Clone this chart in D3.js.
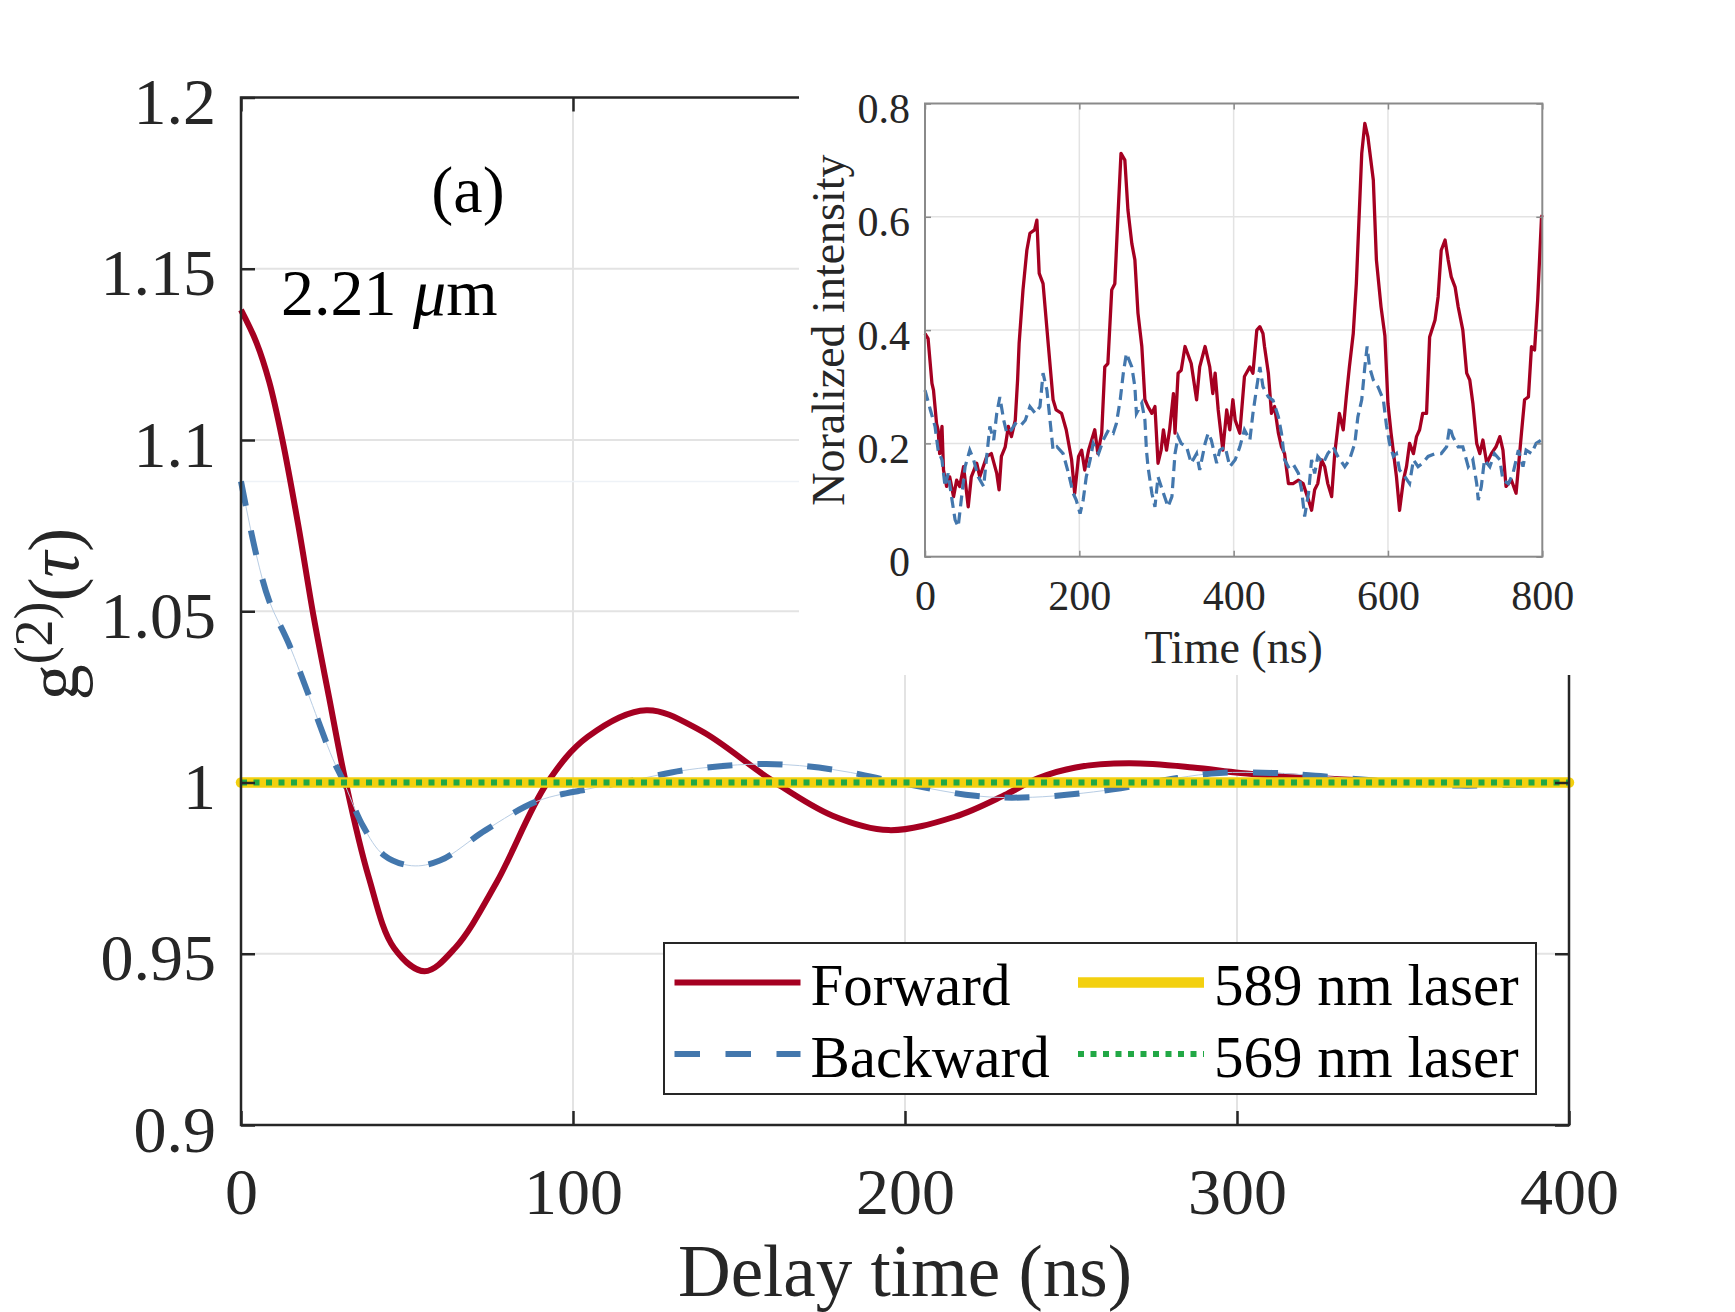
<!DOCTYPE html>
<html lang="en">
<head>
<meta charset="utf-8">
<title>g2 vs delay time</title>
<script src="https://cdn.jsdelivr.net/npm/d3@7"></script>
<style>
  body {margin: 0; background: #fff;}
  svg {display: block;}
  text {font-family: "Liberation Serif", "Times New Roman", serif; fill: #262626;}
</style>
</head>
<body>
<svg id="chart" width="1735" height="1312"></svg>
<script>
// ---- main panel: g2(tau) against delay time (ns)
var delayFwd = [0, 4.6, 8.5, 12.5, 17.2, 21.9, 26.5, 31.4, 38.4, 46.1, 55.3, 64.5, 76.8, 92.1, 104.4, 122.1, 138.2, 159.8, 178.2, 195.1, 215, 230.6, 240.2, 251.4, 267.4, 286.7, 301.1, 320, 340, 360, 380, 400];
var g2Fwd = [1.138, 1.1286, 1.117, 1.0999, 1.0754, 1.0483, 1.025, 1.0007, 0.9726, 0.9517, 0.9449, 0.9517, 0.9705, 0.9997, 1.0133, 1.0211, 1.0153, 1.0007, 0.9903, 0.9861, 0.99, 0.9966, 1.0013, 1.0044, 1.0056, 1.0044, 1.0028, 1.0015, 1.0005, 1.0, 0.9998, 1.0];
var delayBwd = [0, 4.6, 8.5, 14.5, 20.7, 27.6, 30.7, 36.8, 43, 51.4, 59.9, 73.7, 89.1, 104.5, 118.3, 135.2, 158.2, 178.2, 199.7, 221.2, 238.5, 262.7, 282, 294.7, 310.7, 323.6, 339.6, 366.9, 400];
var g2Bwd = [1.0879, 1.0665, 1.053, 1.0403, 1.0247, 1.007, 1.0007, 0.9872, 0.9788, 0.9757, 0.9772, 0.9861, 0.9945, 0.9981, 1.0007, 1.0038, 1.0054, 1.0038, 0.9997, 0.9961, 0.9957, 0.998, 1.0013, 1.0028, 1.0028, 1.002, 1.0007, 0.9991, 1.0];
var laserDelay = [0, 400];
var laserG2 = [1, 1];
var delayTicks = [0, 100, 200, 300, 400];
var g2Ticks = [0.9, 0.95, 1, 1.05, 1.1, 1.15, 1.2];
var g2TickLabels = ["0.9", "0.95", "1", "1.05", "1.1", "1.15", "1.2"];
var legendNames = ["Forward", "Backward", "589 nm laser", "569 nm laser"];

// ---- inset: normalized intensity against time (ns)
var timeFwd = [0, 4, 9, 11, 15, 17, 19, 22, 24, 28, 32, 37, 41, 45, 50, 56, 60, 67, 71, 80, 86, 93, 96, 99, 104, 108, 112, 117, 120, 122, 127, 132, 136, 142, 145, 148, 153, 160, 166, 170, 177, 183, 190, 194, 199, 203, 207, 212, 216, 220, 224, 229, 233, 237, 242, 246, 250, 254, 259, 263, 268, 272, 276, 281, 285, 289, 294, 298, 302, 306, 309, 313, 317, 322, 324, 328, 332, 337, 345, 352, 356, 363, 369, 373, 376, 380, 386, 391, 395, 399, 402, 408, 414, 421, 425, 430, 434, 438, 440, 445, 449, 453, 458, 462, 466, 471, 477, 484, 490, 497, 501, 505, 509, 514, 518, 522, 527, 531, 537, 542, 546, 550, 555, 559, 566, 570, 574, 581, 585, 591, 596, 600, 604, 611, 615, 620, 624, 628, 633, 637, 641, 645, 650, 654, 661, 665, 669, 674, 678, 682, 687, 691, 697, 702, 706, 710, 715, 719, 723, 728, 734, 740, 745, 749, 753, 760, 766, 773, 777, 782, 786, 790, 794, 799, 800];
var intFwd = [0.394, 0.385, 0.306, 0.294, 0.235, 0.224, 0.182, 0.230, 0.153, 0.124, 0.141, 0.106, 0.135, 0.124, 0.159, 0.088, 0.141, 0.165, 0.141, 0.177, 0.182, 0.147, 0.118, 0.177, 0.194, 0.230, 0.212, 0.241, 0.312, 0.377, 0.471, 0.541, 0.571, 0.577, 0.594, 0.500, 0.482, 0.371, 0.277, 0.259, 0.253, 0.224, 0.171, 0.112, 0.177, 0.188, 0.153, 0.188, 0.206, 0.224, 0.182, 0.218, 0.335, 0.341, 0.471, 0.482, 0.600, 0.712, 0.700, 0.612, 0.553, 0.524, 0.430, 0.371, 0.277, 0.265, 0.253, 0.265, 0.165, 0.188, 0.224, 0.188, 0.224, 0.288, 0.218, 0.324, 0.329, 0.371, 0.341, 0.277, 0.335, 0.371, 0.335, 0.288, 0.324, 0.259, 0.188, 0.259, 0.224, 0.277, 0.241, 0.218, 0.318, 0.335, 0.324, 0.400, 0.406, 0.394, 0.371, 0.324, 0.253, 0.265, 0.218, 0.194, 0.182, 0.129, 0.129, 0.135, 0.129, 0.100, 0.082, 0.118, 0.129, 0.171, 0.159, 0.129, 0.106, 0.182, 0.253, 0.224, 0.282, 0.335, 0.394, 0.482, 0.712, 0.765, 0.741, 0.665, 0.524, 0.441, 0.390, 0.270, 0.218, 0.141, 0.082, 0.135, 0.159, 0.200, 0.182, 0.212, 0.224, 0.253, 0.253, 0.388, 0.418, 0.459, 0.541, 0.559, 0.524, 0.494, 0.476, 0.441, 0.400, 0.324, 0.312, 0.271, 0.200, 0.182, 0.206, 0.165, 0.182, 0.194, 0.212, 0.188, 0.124, 0.135, 0.112, 0.218, 0.277, 0.282, 0.371, 0.365, 0.453, 0.600, 0.603];
var timeBwd = [0, 7, 13, 17, 22, 26, 30, 35, 39, 43, 48, 52, 58, 63, 69, 76, 80, 84, 89, 93, 97, 102, 106, 112, 117, 123, 130, 136, 143, 149, 153, 158, 162, 166, 171, 179, 186, 192, 196, 201, 205, 209, 214, 218, 225, 231, 238, 244, 248, 253, 257, 261, 268, 272, 274, 281, 285, 287, 289, 294, 298, 302, 309, 315, 320, 324, 328, 332, 339, 345, 352, 356, 363, 367, 371, 378, 382, 389, 395, 402, 408, 414, 421, 425, 430, 434, 438, 445, 451, 458, 462, 466, 473, 479, 484, 488, 492, 497, 501, 505, 509, 516, 522, 529, 535, 544, 550, 557, 561, 566, 570, 573, 576, 581, 587, 594, 598, 602, 607, 611, 615, 622, 628, 633, 639, 645, 652, 661, 669, 676, 680, 684, 691, 697, 704, 710, 715, 717, 721, 725, 732, 738, 745, 749, 756, 762, 769, 775, 779, 786, 792, 799];
var intBwd = [0.294, 0.259, 0.230, 0.188, 0.171, 0.124, 0.147, 0.100, 0.065, 0.053, 0.112, 0.159, 0.188, 0.171, 0.141, 0.124, 0.177, 0.230, 0.206, 0.253, 0.282, 0.241, 0.218, 0.224, 0.235, 0.230, 0.241, 0.265, 0.253, 0.265, 0.324, 0.294, 0.241, 0.188, 0.194, 0.182, 0.147, 0.112, 0.100, 0.076, 0.100, 0.141, 0.171, 0.200, 0.182, 0.206, 0.224, 0.218, 0.235, 0.277, 0.324, 0.359, 0.335, 0.300, 0.253, 0.271, 0.241, 0.188, 0.159, 0.112, 0.088, 0.141, 0.112, 0.088, 0.106, 0.182, 0.212, 0.200, 0.194, 0.165, 0.182, 0.153, 0.200, 0.218, 0.206, 0.165, 0.188, 0.194, 0.159, 0.171, 0.194, 0.224, 0.206, 0.253, 0.300, 0.335, 0.300, 0.282, 0.276, 0.247, 0.218, 0.171, 0.153, 0.159, 0.147, 0.118, 0.071, 0.112, 0.171, 0.147, 0.177, 0.165, 0.182, 0.194, 0.177, 0.159, 0.171, 0.200, 0.247, 0.277, 0.335, 0.371, 0.335, 0.312, 0.300, 0.277, 0.232, 0.200, 0.177, 0.182, 0.153, 0.141, 0.129, 0.171, 0.159, 0.165, 0.177, 0.182, 0.182, 0.194, 0.230, 0.212, 0.194, 0.194, 0.159, 0.171, 0.129, 0.100, 0.124, 0.171, 0.159, 0.182, 0.171, 0.135, 0.129, 0.147, 0.188, 0.159, 0.188, 0.182, 0.200, 0.206];
var timeTicks = [0, 200, 400, 600, 800];
var intTicks = [0, 0.2, 0.4, 0.6, 0.8];

var red = "#a50021", blue = "#4377ad", yellow = "#f3d00f", green = "#22a845";
var axisCol = "#262626", gridCol = "#e3e3e3";

var svg = d3.select("#chart");

// main scales
var x = d3.scaleLinear().domain([0, 400]).range([241, 1569]);
var y = d3.scaleLinear().domain([0.9, 1.2]).range([1125, 97.5]);

var grid = svg.append("g");
grid.selectAll("line.vx").data(delayTicks.slice(1, -1)).enter().append("line")
    .attr("x1", d => x(d)).attr("x2", d => x(d))
    .attr("y1", y(1.2)).attr("y2", y(0.9))
    .attr("stroke", gridCol).attr("stroke-width", 2);
grid.selectAll("line.hy").data(g2Ticks.slice(1, -1)).enter().append("line")
    .attr("x1", x(0)).attr("x2", x(400))
    .attr("y1", d => y(d)).attr("y2", d => y(d))
    .attr("stroke", gridCol).attr("stroke-width", 2);
// faint rendering line left at the start level of the backward curve
grid.append("line")
    .attr("x1", x(0)).attr("x2", x(400))
    .attr("y1", y(g2Bwd[0])).attr("y2", y(g2Bwd[0]))
    .attr("stroke", "#eef2f7").attr("stroke-width", 1.5);

var smooth = d3.line().curve(d3.curveCatmullRom.alpha(0.5));
function pts(xs, ys, sx, sy) { return xs.map((t, i) => [sx(t), sy(ys[i])]); }

svg.append("path").attr("d", smooth(pts(delayFwd, g2Fwd, x, y)))
    .attr("fill", "none").attr("stroke", red).attr("stroke-width", 6);
svg.append("path").attr("d", smooth(pts(delayBwd, g2Bwd, x, y)))
    .attr("fill", "none").attr("stroke", "#b8cde4").attr("stroke-width", 1);
svg.append("path").attr("d", smooth(pts(delayBwd, g2Bwd, x, y)))
    .attr("fill", "none").attr("stroke", blue).attr("stroke-width", 6)
    .attr("stroke-dasharray", "25,25");
svg.append("path").attr("d", d3.line()(pts(laserDelay, laserG2, x, y)))
    .attr("fill", "none").attr("stroke", yellow).attr("stroke-width", 10.5)
    .attr("stroke-linecap", "round");
svg.append("path").attr("d", d3.line()(pts(laserDelay, laserG2, x, y)))
    .attr("fill", "none").attr("stroke", green).attr("stroke-width", 6)
    .attr("stroke-dasharray", "6,6.5");

// main axes
function styleAxis(g) {
    g.attr("font-family", null).attr("font-size", null);
    g.select(".domain").remove();
    g.selectAll(".tick line").attr("stroke", axisCol).attr("stroke-width", 2.5);
}
svg.append("g").attr("transform", "translate(0," + y(0.9) + ")")
    .call(d3.axisBottom(x).tickValues(delayTicks).tickSize(-14))
    .call(styleAxis)
    .call(g => g.selectAll(".tick text").attr("y", 89).attr("dy", null)
        .style("font-size", "66px"));
svg.append("g").attr("transform", "translate(" + x(0) + ",0)")
    .call(d3.axisLeft(y).tickValues(g2Ticks).tickFormat((d, i) => g2TickLabels[i]).tickSize(-14))
    .call(styleAxis)
    .call(g => g.selectAll(".tick text").attr("x", -25).attr("dy", null).attr("y", 26)
        .style("font-size", "66px"));
svg.append("g").attr("transform", "translate(0," + y(1.2) + ")")
    .call(d3.axisTop(x).tickValues(delayTicks).tickSize(-14).tickFormat(""))
    .call(styleAxis);
svg.append("g").attr("transform", "translate(" + x(400) + ",0)")
    .call(d3.axisRight(y).tickValues(g2Ticks).tickSize(-14).tickFormat(""))
    .call(styleAxis);
svg.append("rect").attr("x", x(0)).attr("y", y(1.2))
    .attr("width", x(400) - x(0)).attr("height", y(0.9) - y(1.2))
    .attr("fill", "none").attr("stroke", axisCol).attr("stroke-width", 2.5);

svg.append("text").attr("x", (x(0) + x(400)) / 2).attr("y", 1296)
    .attr("text-anchor", "middle").style("font-size", "73px").text("Delay time (ns)");
var yl = svg.append("text").attr("transform", "translate(78,614) rotate(-90)")
    .attr("text-anchor", "middle").style("font-size", "72px");
yl.append("tspan").text("g");
yl.append("tspan").attr("dy", -26).style("font-size", "54px").text("(2)");
yl.append("tspan").attr("dy", 26).text("(");
yl.append("tspan").style("font-style", "italic").text("τ");
yl.append("tspan").text(")");

svg.append("text").attr("x", 468).attr("y", 212).attr("text-anchor", "middle")
    .style("font-size", "66px").style("fill", "#000").text("(a)");
var lam = svg.append("text").attr("x", 281).attr("y", 315)
    .style("font-size", "66px").style("fill", "#000");
lam.append("tspan").text("2.21 ");
lam.append("tspan").style("font-style", "italic").text("μ");
lam.append("tspan").text("m");

// legend
var lg = svg.append("g");
lg.append("rect").attr("x", 664).attr("y", 943).attr("width", 872).attr("height", 151)
    .attr("fill", "#fff").attr("stroke", axisCol).attr("stroke-width", 2);
var legendItems = [
    {name: legendNames[0], x: 674.5, y: 982.5, stroke: red, w: 6, dash: null},
    {name: legendNames[1], x: 674.5, y: 1054, stroke: blue, w: 6, dash: "25.5,25.5"},
    {name: legendNames[2], x: 1078, y: 982.5, stroke: yellow, w: 10.5, dash: null},
    {name: legendNames[3], x: 1078, y: 1054, stroke: green, w: 6, dash: "6,6.5"}
];
legendItems.forEach(function(it) {
    lg.append("line").attr("x1", it.x).attr("x2", it.x + 126)
        .attr("y1", it.y).attr("y2", it.y)
        .attr("stroke", it.stroke).attr("stroke-width", it.w)
        .attr("stroke-dasharray", it.dash);
    lg.append("text").attr("x", it.x + 136).attr("y", it.y + 22.5)
        .style("font-size", "59px").style("fill", "#000").text(it.name);
});

// ---- inset
svg.append("rect").attr("x", 799).attr("y", 0).attr("width", 936).attr("height", 675)
    .attr("fill", "#fff");
var xi = d3.scaleLinear().domain([0, 800]).range([925, 1542.3]);
var yi = d3.scaleLinear().domain([0, 0.8]).range([556.7, 103.5]);
var insetAxis = "#8a8a8a";

var ig = svg.append("g");
ig.selectAll("line.vx").data(timeTicks.slice(1, -1)).enter().append("line")
    .attr("x1", d => xi(d)).attr("x2", d => xi(d))
    .attr("y1", yi(0.8)).attr("y2", yi(0))
    .attr("stroke", gridCol).attr("stroke-width", 1.5);
ig.selectAll("line.hy").data(intTicks.slice(1, -1)).enter().append("line")
    .attr("x1", xi(0)).attr("x2", xi(800))
    .attr("y1", d => yi(d)).attr("y2", d => yi(d))
    .attr("stroke", gridCol).attr("stroke-width", 1.5);

var jag = d3.line();
ig.append("path").attr("d", jag(pts(timeFwd, intFwd, xi, yi)))
    .attr("fill", "none").attr("stroke", red).attr("stroke-width", 3.3)
    .attr("stroke-linejoin", "round");
ig.append("path").attr("d", jag(pts(timeBwd, intBwd, xi, yi)))
    .attr("fill", "none").attr("stroke", blue).attr("stroke-width", 3.2)
    .attr("stroke-dasharray", "11,6");

function styleInset(g) {
    g.attr("font-family", null).attr("font-size", null);
    g.select(".domain").remove();
    g.selectAll(".tick line").attr("stroke", insetAxis).attr("stroke-width", 1.5);
}
ig.append("g").attr("transform", "translate(0," + yi(0) + ")")
    .call(d3.axisBottom(xi).tickValues(timeTicks).tickSize(-6))
    .call(styleInset)
    .call(g => g.selectAll(".tick text").attr("y", 53).attr("dy", null)
        .style("font-size", "42px"));
ig.append("g").attr("transform", "translate(" + xi(0) + ",0)")
    .call(d3.axisLeft(yi).tickValues(intTicks).tickFormat(d3.format("~g")).tickSize(-6))
    .call(styleInset)
    .call(g => g.selectAll(".tick text").attr("x", -15).attr("dy", null).attr("y", 19)
        .style("font-size", "42px"));
ig.append("g").attr("transform", "translate(0," + yi(0.8) + ")")
    .call(d3.axisTop(xi).tickValues(timeTicks).tickSize(-6).tickFormat(""))
    .call(styleInset);
ig.append("g").attr("transform", "translate(" + xi(800) + ",0)")
    .call(d3.axisRight(yi).tickValues(intTicks).tickSize(-6).tickFormat(""))
    .call(styleInset);
ig.append("rect").attr("x", xi(0)).attr("y", yi(0.8))
    .attr("width", xi(800) - xi(0)).attr("height", yi(0) - yi(0.8))
    .attr("fill", "none").attr("stroke", insetAxis).attr("stroke-width", 2);

ig.append("text").attr("x", (xi(0) + xi(800)) / 2).attr("y", 663)
    .attr("text-anchor", "middle").style("font-size", "46px").text("Time (ns)");
ig.append("text").attr("transform", "translate(844," + (yi(0) + yi(0.8)) / 2 + ") rotate(-90)")
    .attr("text-anchor", "middle").style("font-size", "46px").text("Noralized intensity");
</script>
</body>
</html>
